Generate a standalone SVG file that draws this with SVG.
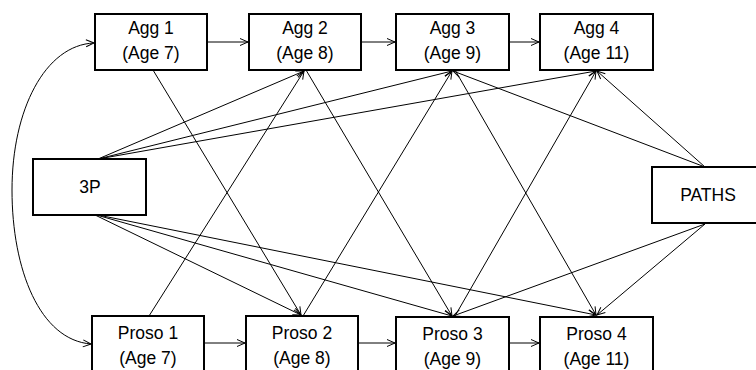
<svg xmlns="http://www.w3.org/2000/svg" width="756" height="370" viewBox="0 0 756 370">
<style>
.box{fill:#fff;stroke:#000;stroke-width:2}
.t{font-family:"Liberation Sans",Arial,sans-serif;font-size:17.5px;fill:#000;text-anchor:middle}
.c{fill:none;stroke:#000;stroke-width:1;marker-end:url(#ah)}
</style>
<defs>
<marker id="ah" markerUnits="userSpaceOnUse" markerWidth="10" markerHeight="10" viewBox="0 0 10 10" refX="9" refY="5" orient="auto">
<path d="M1,1.5 L9,5 L1,8.5" fill="none" stroke="#000" stroke-width="1"/>
</marker>
<marker id="as" markerUnits="userSpaceOnUse" markerWidth="10" markerHeight="10" viewBox="0 0 10 10" refX="9" refY="5" orient="auto-start-reverse">
<path d="M1,1.5 L9,5 L1,8.5" fill="none" stroke="#000" stroke-width="1"/>
</marker>
</defs>
<g id="connectors">
<path class="c" d="M207,42 L248,42"/>
<path class="c" d="M361,42 L395,42"/>
<path class="c" d="M509,42 L539,42"/>
<path class="c" d="M204,343 L245,343"/>
<path class="c" d="M358,343 L395,343"/>
<path class="c" d="M509,343 L539,343"/>
<path d="M94,43 C45,45 12,110 12,190 C12,270 40,340 91,344" fill="none" stroke="#000" stroke-width="1" marker-start="url(#as)" marker-end="url(#ah)"/>
<path class="c" d="M153,70 L301,315"/>
<path class="c" d="M149,316 L304,71"/>
<path class="c" d="M306,70 L452,316"/>
<path class="c" d="M303,316 L452,71"/>
<path class="c" d="M455,70 L596,315"/>
<path class="c" d="M455,316 L596,71"/>
<path class="c" d="M98,159 L304,71"/>
<path class="c" d="M98,159 L452,71"/>
<path class="c" d="M98,159 L596,71"/>
<path class="c" d="M93,214 L301,315"/>
<path class="c" d="M93,214 L452,316"/>
<path class="c" d="M93,214 L596,315"/>
<path class="c" d="M705,167 L453,71"/>
<path class="c" d="M705,167 L597,71"/>
<path class="c" d="M705,224 L453,316"/>
<path class="c" d="M705,224 L597,315"/>
</g>
<g id="agg1"><rect class="box" x="95" y="14" width="112" height="56"/><text class="t" x="151" y="34">Agg 1</text><text class="t" x="151" y="59">(Age 7)</text></g>
<g id="agg2"><rect class="box" x="249" y="14" width="112" height="56"/><text class="t" x="305" y="34">Agg 2</text><text class="t" x="305" y="59">(Age 8)</text></g>
<g id="agg3"><rect class="box" x="396" y="14" width="113" height="56"/><text class="t" x="452.5" y="34">Agg 3</text><text class="t" x="452.5" y="59">(Age 9)</text></g>
<g id="agg4"><rect class="box" x="540" y="14" width="113" height="56"/><text class="t" x="596.5" y="34">Agg 4</text><text class="t" x="596.5" y="59">(Age 11)</text></g>
<g id="threep"><rect class="box" x="33" y="159" width="113" height="56"/><text class="t" x="90" y="193">3P</text></g>
<g id="paths"><rect class="box" x="652" y="167" width="112" height="56"/><text class="t" x="708" y="201">PATHS</text></g>
<g id="proso1"><rect class="box" x="92" y="316" width="112" height="58"/><text class="t" x="148" y="339">Proso 1</text><text class="t" x="148" y="364">(Age 7)</text></g>
<g id="proso2"><rect class="box" x="246" y="316" width="112" height="58"/><text class="t" x="302" y="339">Proso 2</text><text class="t" x="302" y="364">(Age 8)</text></g>
<g id="proso3"><rect class="box" x="396" y="317" width="113" height="58"/><text class="t" x="452.5" y="340">Proso 3</text><text class="t" x="452.5" y="365">(Age 9)</text></g>
<g id="proso4"><rect class="box" x="540" y="317" width="113" height="58"/><text class="t" x="596.5" y="340">Proso 4</text><text class="t" x="596.5" y="365">(Age 11)</text></g>
</svg>
